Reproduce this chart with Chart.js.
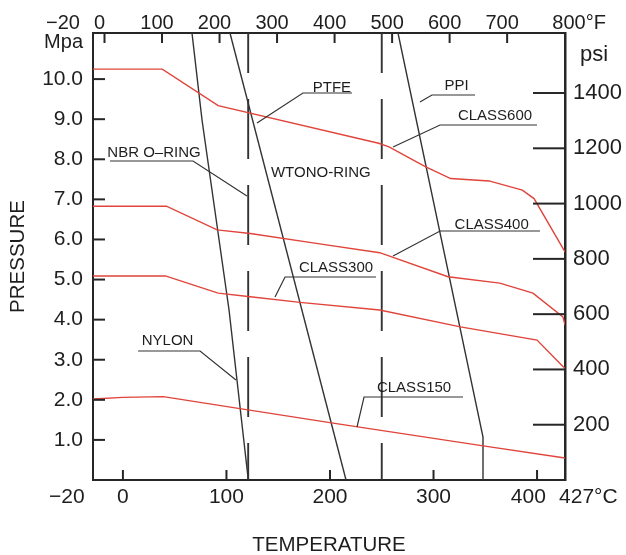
<!DOCTYPE html>
<html><head><meta charset="utf-8">
<script src="https://cdn.jsdelivr.net/npm/chart.js@4.4.1/dist/chart.umd.min.js"></script>
<style>html,body{margin:0;padding:0;background:#fff;}canvas{display:block;}</style>
</head><body>
<canvas id="c" width="626" height="555"></canvas>
<script>
// ---------- DATA (temperature in °C, pressure in MPa) ----------
const class600C   = [-28.9, 38, 92, 247, 257, 292.5, 316.6, 353.6, 385.8, 397.1, 427];
const class600MPa = [10.25, 10.25, 9.34, 8.40, 8.31, 7.81, 7.52, 7.46, 7.23, 7.02, 5.69];
const class400C   = [-28.9, 42, 91, 123, 190, 248, 314, 364, 396, 425, 427];
const class400MPa = [6.83, 6.83, 6.24, 6.15, 5.89, 5.67, 5.07, 4.91, 4.66, 4.07, 3.87];
const class300C   = [-28.9, 41, 92, 123, 171, 248, 326, 400, 425, 427];
const class300MPa = [5.09, 5.09, 4.66, 4.57, 4.43, 4.24, 3.82, 3.49, 2.83, 2.79];
const class150C   = [-28.9, 0, 39, 113, 203, 348, 427];
const class150MPa = [2.02, 2.06, 2.08, 1.78, 1.42, 0.85, 0.55];

const nylonC      = [66.7, 76.4, 102.5, 120.8, 120.8];
const nylonMPa    = [11.15, 8.98, 4.24, 0.07, 0];
const wtonoC      = [103.4, 215.5];
const wtonoMPa    = [11.15, 0];
const ppiC        = [265.7, 347.8, 347.8];
const ppiMPa      = [11.15, 1.07, 0];
const nbrLimitC   = [121, 121];
const ptfeLimitC  = [250, 250];
const limitMPa    = [11.15, 0];

// ---------- AXES / TICKS ----------
const PSI_PER_MPA = 145.038;
const tempMinC = -28.9, tempMaxC = 427, pressMax = 11.15;
const tempTicksC      = [-28.9, 0, 100, 200, 300, 400, 427];
const tempTickLabelsC = ['\u221220         ', '0', '100', '200', '300', '400   ', '        427\u00B0C'];
const tempTickMarksC  = [0, 100, 200, 300, 400];
const tempTicksF      = [-20, 0, 100, 200, 300, 400, 500, 600, 700, 800];
const tempTickLabelsF = ['\u221220         ', '0', '100', '200', '300', '400', '500', '600', '700', '       800\u00B0F'];
const tempTickMarksF  = [0, 100, 200, 300, 400, 500, 600, 700];
const pressTicksMPa   = [1, 2, 3, 4, 5, 6, 7, 8, 9, 10];
const pressTicksPsi   = [200, 400, 600, 800, 1000, 1200, 1400];

// ---------- CALLOUT LABELS (anchored in data units) ----------
const calloutText = ['PTFE', 'PPI', 'CLASS600', 'CLASS400', 'CLASS300', 'CLASS150', 'NBR O\u2013RING', 'NYLON', 'WTONO-RING'];
const calloutC    = [201.9, 322.2, 359.4, 356.2, 205.8, 281.2, 30.0, 43.1, 191.1];
const calloutMPa  = [9.78, 9.83, 9.08, 6.37, 5.29, 2.30, 8.16, 3.47, 7.66];
const calloutLeaders = [
  [[129.5, 8.905], [173.9, 9.653], [221.3, 9.653]],
  [[286.9, 9.429], [298.5, 9.603], [340.1, 9.603]],
  [[260.9, 8.306], [306.3, 8.855], [400.0, 8.855]],
  [[260.9, 5.587], [306.3, 6.211], [402.9, 6.211]],
  [[146.9, 4.565], [156.6, 5.064], [244.4, 5.064]],
  [[226.1, 1.322], [232.9, 2.070], [328.5, 2.070]],
  [[-12.5, 7.957], [67.7, 7.957], [119.8, 7.084]],
  [[14.6, 3.218], [74.5, 3.218], [109.2, 2.494]],
  []
];

const FONT = "'Liberation Sans', Arial, Helvetica, sans-serif";
const TXT = '#1e1e1e';
const AXIS = '#262626';
const RED = '#e0443a';
const BLK = '#333333';

const pts = (xs, ys) => xs.map((x, i) => ({x: x, y: ys[i]}));
const redLine = (xs, ys) => ({data: pts(xs, ys), borderColor: RED, borderWidth: 1.4, pointRadius: 0, fill: false});
const blkLine = (xs, ys) => ({data: pts(xs, ys), borderColor: BLK, borderWidth: 1.4, pointRadius: 0, fill: false});
const dashLine = (xs, ys) => ({data: pts(xs, ys), borderColor: BLK, borderWidth: 1.9, pointRadius: 0, fill: false, borderDash: [60, 26], borderDashOffset: 20});

const inwardTicks = {
  id: 'inwardTicks',
  afterDraw(chart) {
    const {ctx, chartArea: a, scales} = chart;
    ctx.save();
    ctx.strokeStyle = AXIS; ctx.lineWidth = 2;
    const seg = (x1, y1, x2, y2) => { ctx.beginPath(); ctx.moveTo(x1, y1); ctx.lineTo(x2, y2); ctx.stroke(); };
    tempTickMarksC.forEach(v => { const p = scales.x.getPixelForValue(v); seg(p, a.bottom, p, a.bottom - 10); });
    tempTickMarksF.forEach(v => { const p = scales.x2.getPixelForValue(v); seg(p, a.top, p, a.top + 10); });
    pressTicksMPa.forEach(v => { const p = scales.y.getPixelForValue(v); seg(a.left, p, a.left + 12, p); });
    pressTicksPsi.forEach(v => { const p = scales.y2.getPixelForValue(v); seg(a.right, p, a.right - 32, p); });
    // unit labels
    ctx.fillStyle = TXT;
    ctx.font = '20px ' + FONT;
    ctx.textAlign = 'right'; ctx.textBaseline = 'middle';
    ctx.fillText('Mpa', scales.y.right - 10, a.top + 9);
    ctx.font = '22px ' + FONT;
    ctx.textAlign = 'left';
    ctx.fillText('psi', scales.y2.left + 15, a.top + 22);
    // callouts
    ctx.strokeStyle = BLK; ctx.lineWidth = 1.2;
    ctx.font = '15px ' + FONT; ctx.textAlign = 'center';
    calloutText.forEach((t, i) => {
      const L = calloutLeaders[i];
      if (L.length) {
        ctx.beginPath();
        L.forEach((q, j) => {
          const px = scales.x.getPixelForValue(q[0]), py = scales.y.getPixelForValue(q[1]);
          if (j === 0) ctx.moveTo(px, py); else ctx.lineTo(px, py);
        });
        ctx.stroke();
      }
      ctx.fillText(t, scales.x.getPixelForValue(calloutC[i]), scales.y.getPixelForValue(calloutMPa[i]));
    });
    ctx.restore();
  }
};

const tickFont = (s) => ({family: FONT, size: s, lineHeight: 1});

new Chart(document.getElementById('c'), {
  type: 'line',
  data: {
    datasets: [
      redLine(class600C, class600MPa),
      redLine(class400C, class400MPa),
      redLine(class300C, class300MPa),
      redLine(class150C, class150MPa),
      blkLine(nylonC, nylonMPa),
      blkLine(wtonoC, wtonoMPa),
      blkLine(ppiC, ppiMPa),
      dashLine(nbrLimitC, limitMPa),
      dashLine(ptfeLimitC, limitMPa)
    ]
  },
  options: {
    responsive: false, animation: false, devicePixelRatio: 1,
    layout: {padding: 0},
    plugins: {legend: {display: false}, tooltip: {enabled: false}},
    elements: {line: {tension: 0}, point: {radius: 0}},
    scales: {
      x: {
        type: 'linear', position: 'bottom', min: tempMinC, max: tempMaxC,
        afterBuildTicks: s => { s.ticks = tempTicksC.map(v => ({value: v})); },
        afterFit: s => { s.height = 75; },
        grid: {display: false, drawTicks: false},
        border: {display: true, color: AXIS, width: 2},
        ticks: {autoSkip: false, maxRotation: 0, minRotation: 0, padding: 7, color: TXT, font: tickFont(21),
                callback: (v, i) => tempTickLabelsC[i]},
        title: {display: true, text: 'TEMPERATURE', color: TXT, font: {family: FONT, size: 20.5, lineHeight: 1}, padding: {top: 0, bottom: -1}}
      },
      x2: {
        type: 'linear', position: 'top', min: -20, max: tempMaxC * 1.8 + 32,
        afterBuildTicks: s => { s.ticks = tempTicksF.map(v => ({value: v})); },
        afterFit: s => { s.height = 33; },
        grid: {display: false, drawTicks: false},
        border: {display: true, color: AXIS, width: 2},
        ticks: {autoSkip: false, maxRotation: 0, minRotation: 0, padding: 0, labelOffset: -5, color: TXT, font: tickFont(20),
                callback: (v, i) => tempTickLabelsF[i]}
      },
      y: {
        type: 'linear', position: 'left', min: 0, max: pressMax,
        afterBuildTicks: s => { s.ticks = pressTicksMPa.map(v => ({value: v})); },
        afterFit: s => { s.width = 93; },
        grid: {display: false, drawTicks: false},
        border: {display: true, color: AXIS, width: 2},
        ticks: {padding: 10, color: TXT, font: tickFont(21), callback: v => Number(v).toFixed(1)},
        title: {display: true, text: 'PRESSURE', color: TXT, font: {family: FONT, size: 20.5, lineHeight: 1}, padding: {top: 8, bottom: 0}}
      },
      y2: {
        type: 'linear', position: 'right', min: 0, max: pressMax * PSI_PER_MPA,
        afterBuildTicks: s => { s.ticks = pressTicksPsi.map(v => ({value: v})); },
        afterFit: s => { s.width = 61; },
        grid: {display: false, drawTicks: false},
        border: {display: true, color: AXIS, width: 2.5},
        ticks: {padding: 8, color: TXT, font: tickFont(22), callback: v => String(v)}
      }
    }
  },
  plugins: [inwardTicks]
});
</script>
</body></html>
